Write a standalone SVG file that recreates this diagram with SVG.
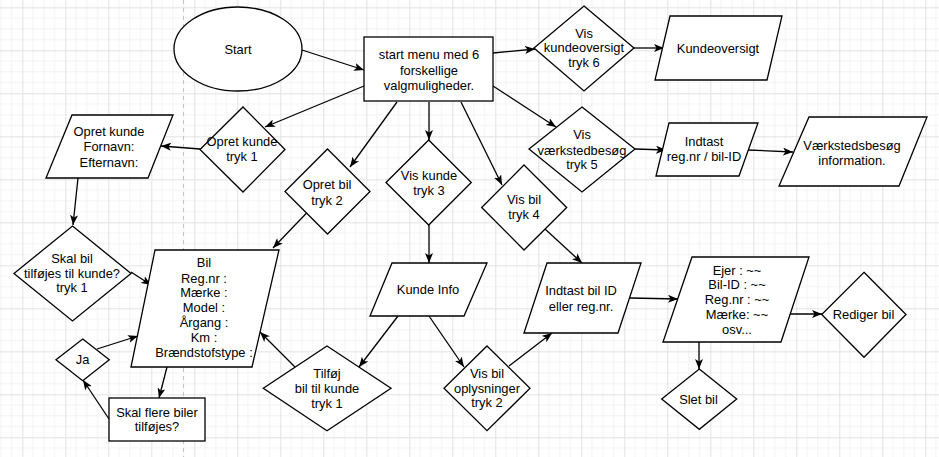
<svg xmlns="http://www.w3.org/2000/svg" width="939" height="457" viewBox="0 0 939 457">
<defs>
<pattern id="grid" patternUnits="userSpaceOnUse" x="22.3" y="7.3" width="43" height="43">
<path d="M10.75 0V43M21.5 0V43M32.25 0V43M0 10.75H43M0 21.5H43M0 32.25H43" stroke="#f3f3f3" stroke-width="1" fill="none"/>
<path d="M0.5 0V43M0 0.5H43" stroke="#e2e2e2" stroke-width="1" fill="none"/>
</pattern>
<marker id="arr" markerUnits="userSpaceOnUse" viewBox="0 0 10 8" refX="10" refY="4" markerWidth="10" markerHeight="8" orient="auto">
<path d="M0 0L10 4L0 8L2.5 4Z" fill="#000"/>
</marker>
<style>
.s{fill:#fff;stroke:#000;stroke-width:1.3}
.c line{stroke:#000;stroke-width:1.3;marker-end:url(#arr)}
text{font-family:"Liberation Sans",Arial,sans-serif;font-size:12.9px;fill:#000;text-anchor:middle}
</style>
</defs>
<rect width="939" height="457" fill="#fff"/>
<rect width="939" height="457" fill="url(#grid)"/>
<line x1="183.5" y1="0" x2="183.5" y2="457" stroke="#c4c4c4" stroke-width="1" stroke-dasharray="4 4"/>

<g id="connectors" class="c">
<line x1="302" y1="50" x2="364" y2="70"/>
<line x1="493" y1="53" x2="535" y2="49"/>
<line x1="634" y1="48" x2="664" y2="48"/>
<line x1="493" y1="86" x2="556" y2="127"/>
<line x1="635" y1="149" x2="666" y2="150"/>
<line x1="748" y1="150" x2="793" y2="152"/>
<line x1="364" y1="86" x2="265" y2="127"/>
<line x1="200" y1="149" x2="161" y2="146"/>
<line x1="78" y1="178" x2="73" y2="225"/>
<line x1="131" y1="272" x2="151" y2="285"/>
<line x1="397" y1="102" x2="350" y2="167"/>
<line x1="306.6" y1="213" x2="273" y2="248"/>
<line x1="429" y1="102" x2="429" y2="140"/>
<line x1="461" y1="102" x2="502" y2="185"/>
<line x1="429" y1="225" x2="429" y2="263"/>
<line x1="545" y1="229" x2="582" y2="263"/>
<line x1="398" y1="316" x2="359" y2="367"/>
<line x1="429" y1="316" x2="464" y2="367"/>
<line x1="509" y1="366" x2="552" y2="333"/>
<line x1="295" y1="367" x2="260" y2="332"/>
<line x1="97" y1="349" x2="138" y2="336"/>
<line x1="167" y1="367" x2="159" y2="398"/>
<line x1="109" y1="419" x2="83" y2="380"/>
<line x1="630" y1="298" x2="678" y2="299"/>
<line x1="789" y1="314" x2="822" y2="314"/>
<line x1="699" y1="342" x2="699" y2="369"/>
</g>

<g id="start">
<ellipse class="s" cx="238" cy="49" rx="64" ry="42"/>
<text x="238" y="53.6">Start</text>
</g>

<g id="menu">
<rect class="s" x="364" y="37" width="129" height="64"/>
<text x="429" y="58.9">start menu med 6</text>
<text x="429" y="74.6">forskellige</text>
<text x="429" y="89.6">valgmuligheder.</text>
</g>

<g id="vis-kundeoversigt">
<polygon class="s" points="584,6 634,48 584,91 534,48"/>
<text x="584" y="37.9">Vis</text>
<text x="584" y="52.3">kundeoversigt</text>
<text x="584" y="66.9">tryk 6</text>
</g>

<g id="kundeoversigt">
<polygon class="s" points="670,16 782,16 767,80 655,80"/>
<text x="718" y="52.6">Kundeoversigt</text>
</g>

<g id="vis-vaerkstedbesoeg">
<polygon class="s" points="582,107 635,149 582,192 529,149"/>
<text x="582" y="138.9">Vis</text>
<text x="582" y="154.6">værkstedbesøg</text>
<text x="582" y="168.6">tryk 5</text>
</g>

<g id="indtast-regnr">
<polygon class="s" points="669,123 758,123 739,176 656,176"/>
<text x="704" y="146.3">Indtast</text>
<text x="704" y="160.6">reg.nr / bil-ID</text>
</g>

<g id="vaerkstedsbesoeg-info">
<polygon class="s" points="809,117 927,117 899,186 779,186"/>
<text x="852" y="149.6">Værkstedsbesøg</text>
<text x="852" y="164.6">information.</text>
</g>

<g id="opret-kunde">
<polygon class="s" points="243,107 285,149.5 243,192 200,149.5"/>
<text x="242" y="146.3">Opret kunde</text>
<text x="242" y="161.3">tryk 1</text>
</g>

<g id="opret-kunde-input">
<polygon class="s" points="72,115 173,115 148,178 46,178"/>
<text x="109" y="136.3">Opret kunde</text>
<text x="109" y="151.3">Fornavn:</text>
<text x="109" y="166.9">Efternavn:</text>
</g>

<g id="skal-bil">
<polygon class="s" points="72.5,226 131,273.5 72.5,321 14,273.5"/>
<text x="72" y="262.9">Skal bil</text>
<text x="72" y="277.9">tilføjes til kunde?</text>
<text x="72" y="292.3">tryk 1</text>
</g>

<g id="bil">
<polygon class="s" points="155,250 279,250 252,367 131,367"/>
<text x="204" y="267.3">Bil</text>
<text x="204" y="283.3">Reg.nr :</text>
<text x="204" y="296.9">Mærke :</text>
<text x="204" y="312.3">Model :</text>
<text x="204" y="326.9">Årgang :</text>
<text x="204" y="341.9">Km :</text>
<text x="204" y="357.3">Brændstofstype :</text>
</g>

<g id="ja">
<polygon class="s" points="82.7,339 109.3,359.7 82.7,380.7 56,359.7"/>
<text x="82.5" y="364.3">Ja</text>
</g>

<g id="skal-flere">
<rect class="s" x="109" y="398" width="96" height="43"/>
<text x="157" y="416.9">Skal flere biler</text>
<text x="157" y="431.3">tilføjes?</text>
</g>

<g id="opret-bil">
<polygon class="s" points="327.5,149 370,191.5 327.5,234 285,191.5"/>
<text x="327" y="188.9">Opret bil</text>
<text x="327" y="204.6">tryk 2</text>
</g>

<g id="vis-kunde">
<polygon class="s" points="428.7,140 471.3,182.5 428.7,225 386,182.5"/>
<text x="429" y="180.3">Vis kunde</text>
<text x="429" y="195.3">tryk 3</text>
</g>

<g id="vis-bil">
<polygon class="s" points="524,165 566.7,207.5 524,250 481.7,207.5"/>
<text x="524" y="203.9">Vis bil</text>
<text x="524" y="218.9">tryk 4</text>
</g>

<g id="kunde-info">
<polygon class="s" points="392,263 487,263 464,316 370,316"/>
<text x="428" y="293.9">Kunde Info</text>
</g>

<g id="indtast-bil-id">
<polygon class="s" points="547,263 641,263 618,333 524,333"/>
<text x="581" y="294.6">Indtast bil ID</text>
<text x="581" y="310.6">eller reg.nr.</text>
</g>

<g id="tilfoej">
<polygon class="s" points="327,346 391,388.3 327,430.7 263.3,388.3"/>
<text x="327" y="377.9">Tilføj</text>
<text x="327" y="392.9">bil til kunde</text>
<text x="327" y="407.9">tryk 1</text>
</g>

<g id="vis-bil-oplysninger">
<polygon class="s" points="487,346 530,388.3 487,430.7 444,388.3"/>
<text x="487" y="377.9">Vis bil</text>
<text x="487" y="392.9">oplysninger</text>
<text x="487" y="407.3">tryk 2</text>
</g>

<g id="bil-detaljer">
<polygon class="s" points="692,257 809,257 781,342 663,342"/>
<text x="737" y="274.6">Ejer : ~~</text>
<text x="737" y="288.6">Bil-ID : ~~</text>
<text x="737" y="303.9">Reg.nr : ~~</text>
<text x="737" y="318.9">Mærke: ~~</text>
<text x="737" y="333.9">osv...</text>
</g>

<g id="rediger-bil">
<polygon class="s" points="864,272.3 906,314.5 864,357.3 821.7,314.5"/>
<text x="863.5" y="318.9">Rediger bil</text>
</g>

<g id="slet-bil">
<polygon class="s" points="699.3,369 736.7,399 699.3,429.3 661.7,399"/>
<text x="698.5" y="403.6">Slet bil</text>
</g>
</svg>
